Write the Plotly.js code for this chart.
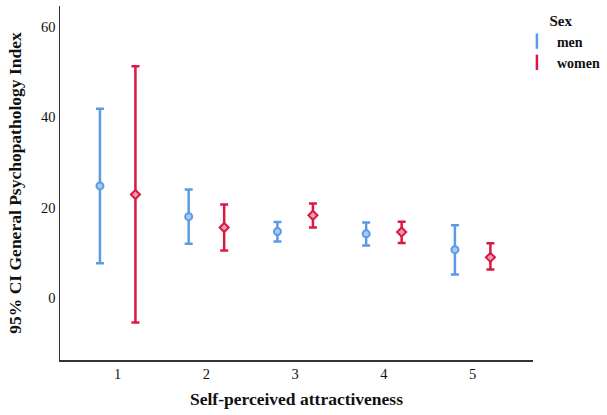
<!DOCTYPE html>
<html>
<head>
<meta charset="utf-8">
<script src="https://cdn.plot.ly/plotly-3.0.1.min.js"></script>
<style>html,body{margin:0;padding:0;background:#fff}#chart{width:607px;height:415px}</style>
</head>
<body>
<div id="chart"></div>
<script>
var categories = [1, 2, 3, 4, 5];
var tickLabels = ["1", "2", "3", "4", "5"];
var menMean  = [24.8, 18.0, 14.7, 14.2, 10.7];
var menUpper = [41.9, 24.0, 16.8, 16.7, 16.1];
var menLower = [7.7, 12.0, 12.5, 11.6, 5.2];
var womenMean  = [22.9, 15.6, 18.3, 14.6, 9.0];
var womenUpper = [51.3, 20.7, 20.9, 16.9, 12.1];
var womenLower = [-5.4, 10.5, 15.6, 12.2, 6.3];

var blue = "#5B9BE6", red = "#DA1A44";
var off = 0.2;

function errTrace(name, mean, up, lo, color, fill, symbol, shift) {
  return {
    type: "scatter", mode: "markers", name: name, showlegend: false,
    x: categories.map(function (c) { return c + shift; }),
    y: mean,
    error_y: {
      type: "data", symmetric: false,
      array: up.map(function (u, i) { return u - mean[i]; }),
      arrayminus: lo.map(function (l, i) { return mean[i] - l; }),
      color: color, thickness: 2.5, width: 4
    },
    marker: { symbol: symbol, size: 7, color: fill, line: { color: color, width: 2 } },
    hoverinfo: "skip"
  };
}
function legTrace(name, color) {
  return {
    type: "scatter", mode: "markers", name: name, x: [null], y: [null],
    marker: { symbol: "line-ns-open", size: 11, color: color, line: { color: color, width: 2.5 } }
  };
}

var data = [
  errTrace("men", menMean, menUpper, menLower, blue, "#A9C9F2", "circle", -off),
  errTrace("women", womenMean, womenUpper, womenLower, red, "#EE9AAB", "diamond", off),
  legTrace("men", blue),
  legTrace("women", red)
];

var serif = "Liberation Serif";
var layout = {
  width: 607, height: 415,
  margin: { l: 60, r: 74, t: 6, b: 55, autoexpand: false },
  paper_bgcolor: "#fff", plot_bgcolor: "#fff",
  font: { family: serif, color: "#111", size: 14 },
  xaxis: {
    range: [0.35, 5.68], tickvals: categories, ticktext: tickLabels,
    showgrid: false, zeroline: false, showline: true, linecolor: "#333", linewidth: 1.5,
    ticks: "", ticklen: 0, tickfont: { family: serif, size: 14.5, color: "#111" },
    title: { text: "<b>Self-perceived attractiveness</b>", font: { family: serif, size: 17.5, color: "#111" }, standoff: 12 }
  },
  yaxis: {
    range: [-13.7, 64.6], tickvals: [0, 20, 40, 60],
    showgrid: false, zeroline: false, showline: true, linecolor: "#333", linewidth: 1.5,
    ticks: "", tickfont: { family: serif, size: 14.5, color: "#111" },
    title: { text: "<b>95% CI General Psychopathology Index</b>", font: { family: serif, size: 17.5, color: "#111" }, standoff: 15 }
  },
  showlegend: true,
  legend: {
    x: 0.966, xanchor: "left", y: 1.0, yanchor: "top",
    font: { family: serif, size: 14, color: "#111", weight: "bold" },
    title: { text: "<b>Sex</b>", side: "top center", font: { family: serif, size: 15, color: "#111" } },
    itemwidth: 30, tracegroupgap: 0, bgcolor: "rgba(0,0,0,0)"
  }
};
Plotly.newPlot("chart", data, layout, { displayModeBar: false, staticPlot: true });
</script>
</body>
</html>
